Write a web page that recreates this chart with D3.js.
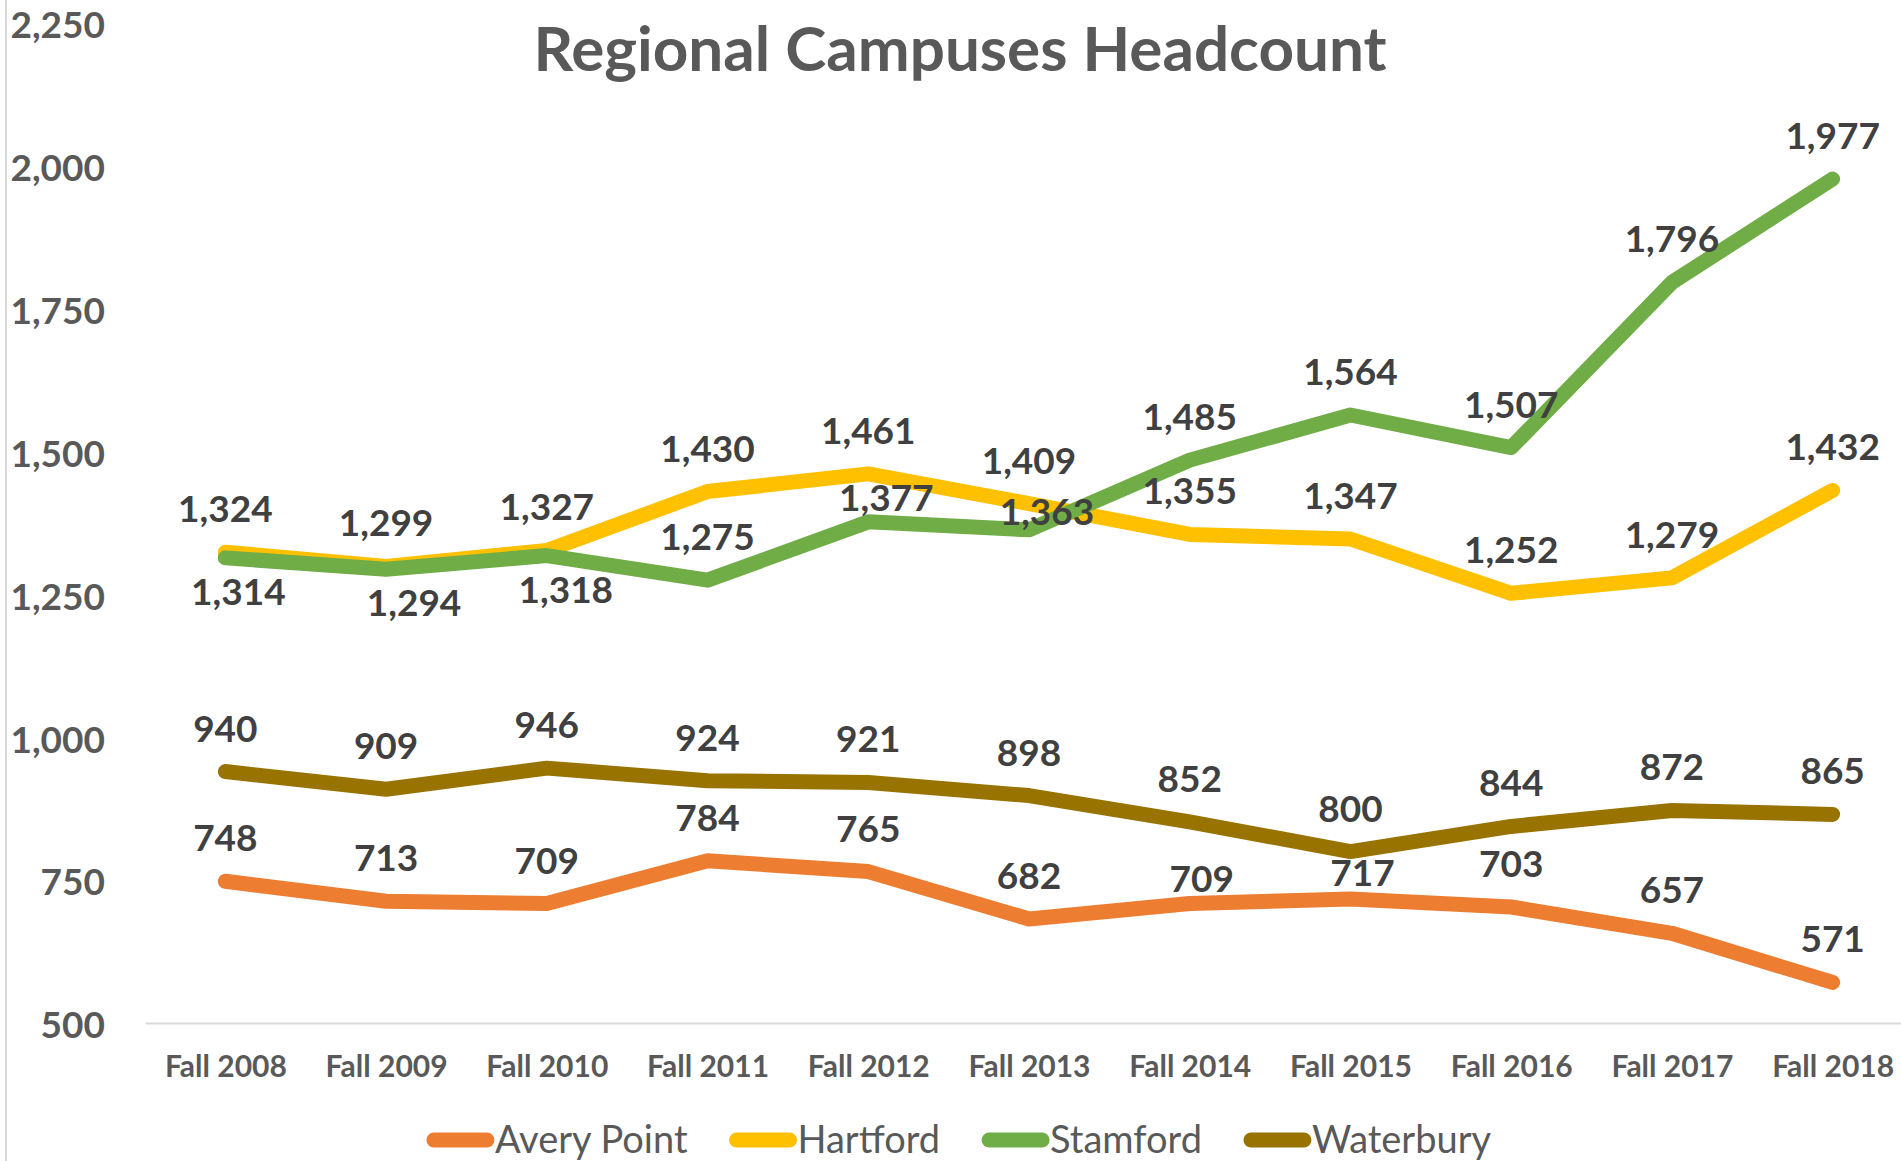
<!DOCTYPE html>
<html>
<head>
<meta charset="utf-8">
<script src="https://cdn.jsdelivr.net/npm/d3@7"></script>
<style>
  body { margin: 0; background: #fff; }
  text { font-family: Lato, "Open Sans", sans-serif; }
</style>
</head>
<body>
<script>
// data
var years = ["Fall 2008", "Fall 2009", "Fall 2010", "Fall 2011", "Fall 2012", "Fall 2013",
             "Fall 2014", "Fall 2015", "Fall 2016", "Fall 2017", "Fall 2018"];
var averyPoint = [748, 713, 709, 784, 765, 682, 709, 717, 703, 657, 571];
var hartford   = [1324, 1299, 1327, 1430, 1461, 1409, 1355, 1347, 1252, 1279, 1432];
var stamford   = [1314, 1294, 1318, 1275, 1377, 1363, 1485, 1564, 1507, 1796, 1977];
var waterbury  = [940, 909, 946, 924, 921, 898, 852, 800, 844, 872, 865];
var seriesNames = ["Avery Point", "Hartford", "Stamford", "Waterbury"];
var yTicks = [500, 750, 1000, 1250, 1500, 1750, 2000, 2250];

var series = [averyPoint, hartford, stamford, waterbury].map(function(v, i) {
  return { name: seriesNames[i], values: v };
});

// hand-moved labels in the original chart (series, point, dx, dy)
var labelNudge = [
  ["Stamford", 0, 13, 77], ["Stamford", 1, 28, 77], ["Stamford", 2, 19, 77],
  ["Stamford", 4, 18, 19], ["Stamford", 5, 18, 25],
  ["Avery Point", 7, 12, 17], ["Avery Point", 6, 12, 18]
];

var W = 1901, H = 1161;
var margin = {top: 23, right: -12, bottom: 138, left: 145};
var width = W - margin.left - margin.right,
    height = H - margin.top - margin.bottom;

var color = d3.scaleOrdinal()
  .domain(seriesNames)
  .range(["#ED7D31", "#FFC000", "#70AD47", "#997300"]);

var x = d3.scalePoint()
  .domain(years)
  .range([0, width])
  .padding(0.5);

var y = d3.scaleLinear()
  .domain([500, 2250])
  .range([height, 0]);

var svg = d3.select("body").append("svg")
    .attr("width", W)
    .attr("height", H);

// chart border on the left
svg.append("line")
    .attr("x1", 6).attr("x2", 6)
    .attr("y1", 0).attr("y2", H)
    .style("stroke", "#d9d9d9")
    .style("stroke-width", 2);

svg.append("text")
    .attr("x", 960)
    .attr("y", 49)
    .attr("dy", ".35em")
    .style("text-anchor", "middle")
    .style("font-size", "62px")
    .style("font-weight", "bold")
    .style("fill", "#595959")
    .text("Regional Campuses Headcount");

var g = svg.append("g")
    .attr("transform", "translate(" + margin.left + "," + margin.top + ")");

// y axis labels, no line
var yAxis = d3.axisLeft(y)
    .tickValues(yTicks)
    .tickSize(0)
    .tickPadding(40)
    .tickFormat(d3.format(","));

g.append("g")
    .attr("class", "y axis")
    .call(yAxis)
    .call(function(s) { s.select(".domain").remove(); })
  .selectAll("text")
    .attr("dy", ".4em")
    .style("font-family", "Lato, sans-serif")
    .style("font-size", "37px")
    .style("font-weight", "bold")
    .style("fill", "#595959");

// x axis
var xAxis = d3.axisBottom(x)
    .tickSize(0)
    .tickPadding(33);

g.append("g")
    .attr("class", "x axis")
    .attr("transform", "translate(0," + height + ")")
    .call(xAxis)
    .call(function(s) {
      s.select(".domain").style("stroke", "#d9d9d9").style("stroke-width", 2);
    })
  .selectAll("text")
    .style("font-family", "Lato, sans-serif")
    .style("font-size", "30px")
    .style("font-weight", "bold")
    .style("fill", "#595959");

var line = d3.line()
    .x(function(d, i) { return x(years[i]); })
    .y(function(d) { return y(d); });

g.selectAll(".series")
    .data(series)
  .enter().append("path")
    .attr("class", "series")
    .attr("d", function(d) { return line(d.values); })
    .style("fill", "none")
    .style("stroke", function(d) { return color(d.name); })
    .style("stroke-width", 15)
    .style("stroke-linecap", "round")
    .style("stroke-linejoin", "round");

// data labels
function nudge(name, i) {
  var n = labelNudge.find(function(r) { return r[0] === name && r[1] === i; });
  return n ? [n[2], n[3]] : [0, 0];
}

series.forEach(function(s) {
  g.selectAll(".lbl-" + s.name.replace(" ", ""))
      .data(s.values)
    .enter().append("text")
      .attr("x", function(d, i) { return x(years[i]) + nudge(s.name, i)[0]; })
      .attr("y", function(d, i) { return y(d) - 43 + nudge(s.name, i)[1]; })
      .attr("dy", ".35em")
      .style("text-anchor", "middle")
      .style("font-size", "37px")
      .style("font-weight", "bold")
      .style("fill", "#404040")
      .text(function(d) { return d3.format(",")(d); });
});

// legend
var legend = svg.append("g").attr("class", "legend");
var lx = 0;
seriesNames.forEach(function(name) {
  var item = legend.append("g").attr("transform", "translate(" + lx + ",0)");
  item.append("line")
      .attr("x1", 7).attr("x2", 60)
      .attr("y1", 0).attr("y2", 0)
      .style("stroke", color(name))
      .style("stroke-width", 15)
      .style("stroke-linecap", "round");
  var t = item.append("text")
      .attr("x", 68)
      .attr("dy", ".35em")
      .style("font-size", "38px")
      .style("fill", "#595959")
      .text(name);
  lx += 68 + t.node().getComputedTextLength() + 42;
});
lx -= 42;
legend.attr("transform", "translate(" + (959 - lx / 2) + ",1140)");
</script>
</body>
</html>
